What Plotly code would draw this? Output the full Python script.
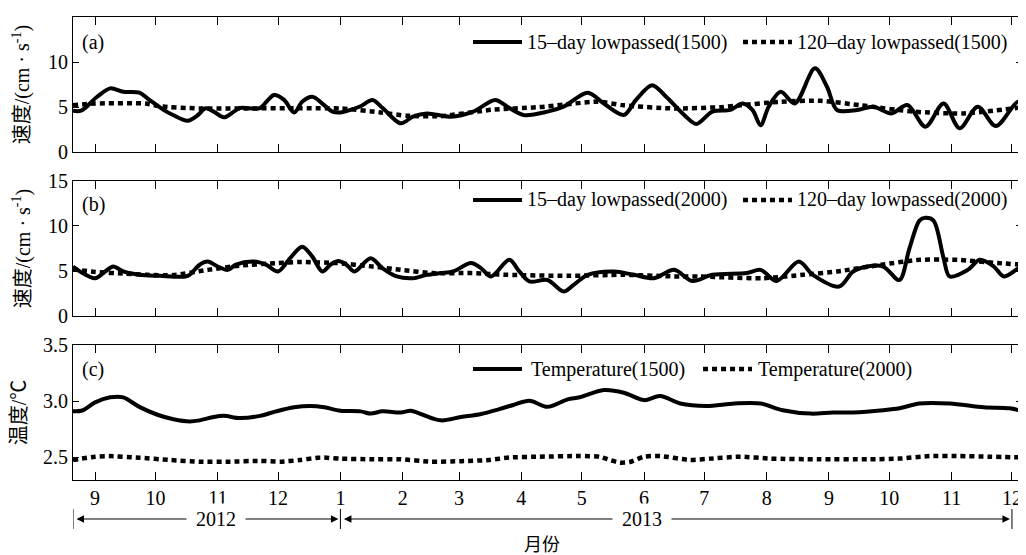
import pandas as pd
import plotly.graph_objects as go

BASE = "2012-09-01"  # day 0 of the day offsets below

# ---------------- (a) speed at 1500 m ----------------
a15_days = [-11, -7, 1, 7.5, 14, 22, 27, 34, 39, 46, 51, 55, 59, 64, 69, 72, 82, 86, 89, 94, 99, 103, 108, 113,
            118, 122, 127, 132, 138, 143, 152, 158, 165, 177, 188, 199, 205, 213, 225, 233, 245, 253, 263, 269,
            277, 284, 293, 299, 307, 316, 322, 327, 331, 335, 341, 348, 358, 364, 369, 379, 387, 396, 404, 413,
            422, 430, 439, 448, 459, 462]
a15_vals = [4.6, 4.6, 6.15, 7.08, 6.7, 6.6, 5.8, 4.7, 4.1, 3.5, 4.1, 4.87, 4.5, 3.87, 4.5, 4.9, 4.9, 5.8, 6.34, 5.8,
            4.4, 5.6, 6.15, 5.4, 4.5, 4.4, 4.7, 5.1, 5.8, 4.9, 3.2, 3.94, 4.3, 3.94, 4.5, 5.8, 5.05, 4.13, 4.5,
            5.05, 6.6, 5.4, 4.13, 5.8, 7.44, 6.15, 4.13, 3.13, 4.5, 4.7, 5.4, 4.67, 3.0, 5.05, 6.7, 5.4, 9.3,
            7.26, 4.68, 4.68, 5.05, 4.3, 5.23, 2.83, 5.4, 2.65, 5.05, 2.9, 5.6, 5.0]
a120_days = [-11, 0, 25, 32, 52, 122, 142, 155, 172, 197, 221, 250, 263, 288, 311, 321, 341, 361, 381, 407, 432, 462]
a120_vals = [5.2, 5.4, 5.4, 5.1, 4.85, 4.85, 4.4, 4.05, 4.0, 4.7, 5.0, 5.6, 5.2, 4.85, 5.0, 5.2, 5.6, 5.7, 5.2,
             4.5, 4.3, 5.0]

# ---------------- (b) speed at 2000 m ----------------
b15_days = [-11, -7.5, 0, 5, 9, 14, 22, 32, 45, 47, 52, 56, 61, 66, 70, 79, 85, 91, 97, 103, 108, 113, 117, 121,
            125, 129, 137, 143, 150, 158, 165, 172, 178, 187, 192, 197, 206, 211, 216, 225, 233, 238, 245, 258,
            268, 278, 288, 297, 307, 324, 331, 339, 350, 357, 370, 377, 384, 392, 400, 405, 410, 413, 417, 422,
            425, 434, 440, 447, 452, 459, 462]
b15_vals = [5.5, 4.95, 4.2, 4.95, 5.5, 4.95, 4.58, 4.47, 4.4, 4.58, 5.7, 6.05, 5.5, 5.13, 5.7, 6.05, 5.7, 4.95,
            6.43, 7.7, 6.6, 4.95, 5.7, 6.1, 5.7, 4.95, 6.43, 5.3, 4.4, 4.2, 4.58, 4.77, 4.95, 5.88, 5.3, 4.4,
            6.24, 4.95, 3.84, 4.0, 2.73, 3.47, 4.58, 4.95, 4.58, 4.2, 5.13, 3.9, 4.58, 4.77, 5.13, 3.9, 6.05,
            4.58, 3.28, 4.95, 5.5, 5.5, 4.0, 7.5, 10.6, 10.9, 10.6, 6.43, 4.4, 5.13, 6.24, 5.5, 4.4, 5.3, 5.9]
b120_days = [-11, 0, 15, 26, 39, 56, 72, 91, 102, 120, 138, 152, 168, 187, 205, 235, 263, 288, 300, 332, 352,
             369, 391, 410, 429, 449, 462]
b120_vals = [5.2, 4.9, 4.7, 4.58, 4.55, 5.13, 5.6, 5.88, 6.0, 5.88, 5.5, 5.13, 4.77, 4.77, 4.58, 4.47, 4.58,
             4.4, 4.4, 4.2, 4.58, 4.95, 5.7, 6.24, 6.24, 5.88, 5.7]

# ---------------- (c) temperature ----------------
c1500_days = [-11, -6, 0, 7.5, 14, 22, 31, 39, 47, 52, 59, 64, 72, 82, 90, 99, 107, 114, 122, 132, 137, 143, 152,
              157, 163, 172, 182, 192, 201, 208, 216, 225, 235, 241, 253, 263, 273, 281, 291, 304, 318, 331,
              342, 356, 367, 377, 392, 400, 410, 425, 442, 455, 462]
c1500_vals = [2.91, 2.92, 2.99, 3.035, 3.035, 2.95, 2.88, 2.84, 2.82, 2.83, 2.86, 2.87, 2.85, 2.87, 2.91, 2.946,
              2.958, 2.946, 2.916, 2.91, 2.89, 2.91, 2.90, 2.916, 2.88, 2.83, 2.86, 2.887, 2.93, 2.967, 3.005,
              2.95, 3.017, 3.035, 3.10, 3.076, 3.01, 3.047, 2.98, 2.958, 2.98, 2.98, 2.92, 2.89, 2.90, 2.90,
              2.92, 2.937, 2.98, 2.98, 2.946, 2.937, 2.907]
c2000_days = [-11, 0, 7, 22, 37, 52, 67, 82, 92, 102, 112, 122, 137, 152, 167, 182, 196, 206, 221, 241, 251,
              256, 261, 266, 273, 281, 296, 306, 321, 336, 360, 385, 400, 415, 430, 445, 462]
c2000_vals = [2.478, 2.507, 2.513, 2.498, 2.478, 2.463, 2.463, 2.47, 2.463, 2.478, 2.50, 2.49, 2.484, 2.484,
              2.463, 2.467, 2.478, 2.50, 2.507, 2.513, 2.507, 2.478, 2.454, 2.46, 2.507, 2.513, 2.478, 2.49,
              2.507, 2.49, 2.484, 2.484, 2.49, 2.513, 2.513, 2.507, 2.50]

month_tick0 = "2012-09-01"
x_range = ["2012-08-21", "2013-12-06"]
years = ["2012", "2013"]
year_spans = [("2012-08-21", "2013-01-01"), ("2013-01-01", "2013-12-01")]
year_label_dates = ["2012-10-31", "2013-05-31"]

panel_labels = ["(a)", "(b)", "(c)"]
legend_names = [["15–day lowpassed(1500)", "120–day lowpassed(1500)"],
                ["15–day lowpassed(2000)", "120–day lowpassed(2000)"],
                ["Temperature(1500)", "Temperature(2000)"]]


def to_dates(days):
    return pd.Timestamp(BASE) + pd.to_timedelta(days, unit="D")


FONT = "Liberation Serif, 'Noto Sans CJK SC', serif"
FS = 20
DOT_DASH = "5px,4px"
SOLID = dict(color="black", width=4, shape="spline", smoothing=0.9)
DOTTED = dict(color="black", width=4.5, dash=DOT_DASH, shape="spline", smoothing=0.6)

series = [
    (a15_days, a15_vals, SOLID, legend_names[0][0], "x", "y"),
    (a120_days, a120_vals, DOTTED, legend_names[0][1], "x", "y"),
    (b15_days, b15_vals, SOLID, legend_names[1][0], "x2", "y2"),
    (b120_days, b120_vals, DOTTED, legend_names[1][1], "x2", "y2"),
    (c1500_days, c1500_vals, SOLID, legend_names[2][0], "x3", "y3"),
    (c2000_days, c2000_vals, DOTTED, legend_names[2][1], "x3", "y3"),
]

fig = go.Figure()
for d, v, ln, nm, xa, ya in series:
    fig.add_trace(go.Scatter(x=to_dates(d), y=v, mode="lines", line=ln, name=nm, xaxis=xa, yaxis=ya,
                             showlegend=False))

tickfont = dict(family=FONT, size=FS, color="black")
xcommon = dict(type="date", range=x_range, tick0=month_tick0, dtick="M1", tickformat="%-m",
               ticks="inside", ticklen=8, tickwidth=1, tickcolor="black",
               showline=True, linecolor="black", linewidth=1, mirror="ticks",
               showgrid=False, zeroline=False, tickfont=tickfont, automargin=False)
ycommon = dict(ticks="inside", ticklen=6, tickwidth=1, tickcolor="black",
               showline=True, linecolor="black", linewidth=1, mirror="ticks",
               showgrid=False, zeroline=False, tickfont=tickfont, automargin=False)
title_font = dict(family=FONT, size=FS, color="black")
speed_title = "速度/(cm · s<sup>-1</sup>)"

# the page body adds an 8px margin, so the figure is drawn 8px smaller and offset
fig.update_layout(
    width=1018, height=547,
    margin=dict(l=65, r=4, t=9, b=75),
    paper_bgcolor="white", plot_bgcolor="white",
    showlegend=False,
    xaxis=dict(xcommon, anchor="y", showticklabels=False),
    xaxis2=dict(xcommon, anchor="y2", showticklabels=False, matches="x"),
    xaxis3=dict(xcommon, anchor="y3", matches="x"),
    yaxis=dict(ycommon, domain=[0.708, 1.0], range=[0, 15], tickvals=[0, 5, 10, 15], anchor="x",
               title=dict(text=speed_title, font=title_font, standoff=12)),
    yaxis2=dict(ycommon, domain=[0.354, 0.646], range=[0, 15], tickvals=[0, 5, 10, 15], anchor="x2",
                title=dict(text=speed_title, font=title_font, standoff=12)),
    yaxis3=dict(ycommon, domain=[0.0, 0.2916], range=[2.3, 3.5], tickvals=[2.5, 3.0, 3.5], tickformat=".1f",
                anchor="x3", title=dict(text="温度/℃", font=title_font, standoff=12)),
)

ann = []
shapes = []
label_y = [0.945, 0.594, 0.2376]
legend_y = [0.946, 0.6048, 0.2397]
legend_x = [  # (line1 x0, x1, text1 x, line2 x0, x1, text2 x) in paper fraction
    (0.4215, 0.4731, 0.4763, 0.706, 0.7576, 0.7608),
    (0.4215, 0.4731, 0.4763, 0.706, 0.7576, 0.7608),
    (0.4215, 0.4731, 0.4800, 0.6639, 0.7155, 0.7200),
]
for lab, ly, lgy, lx, nms in zip(panel_labels, label_y, legend_y, legend_x, legend_names):
    ann.append(dict(text=lab, xref="paper", yref="paper", x=0.0074, y=ly, xanchor="left", yanchor="middle",
                    showarrow=False, font=dict(family=FONT, size=FS, color="black")))
    shapes.append(dict(type="line", xref="paper", yref="paper", x0=lx[0], x1=lx[1], y0=lgy, y1=lgy,
                       line=dict(color="black", width=4)))
    shapes.append(dict(type="line", xref="paper", yref="paper", x0=lx[3], x1=lx[4], y0=lgy, y1=lgy,
                       line=dict(color="black", width=4.5, dash=DOT_DASH)))
    ann.append(dict(text=nms[0], xref="paper", yref="paper", x=lx[2], y=lgy, xanchor="left",
                    yanchor="middle", showarrow=False, font=dict(family=FONT, size=FS, color="black")))
    ann.append(dict(text=nms[1], xref="paper", yref="paper", x=lx[5], y=lgy, xanchor="left",
                    yanchor="middle", showarrow=False, font=dict(family=FONT, size=FS, color="black")))

arrow_y = -0.0842
for (s, e), yr, ld in zip(year_spans, years, year_label_dates):
    ann.append(dict(text="", xref="x3", yref="paper", x=e, y=arrow_y, axref="x3", ax=s, ayref="pixel", ay=0,
                    showarrow=True, arrowhead=2, startarrowhead=2, arrowside="end+start", arrowsize=1.5,
                    startarrowsize=1.5, arrowwidth=1, arrowcolor="black", standoff=2, startstandoff=2))
    ann.append(dict(text=" " + yr + " ", xref="x3", yref="paper", x=ld, y=arrow_y, showarrow=False,
                    bgcolor="white", borderpad=4, xanchor="center", yanchor="middle",
                    font=dict(family=FONT, size=FS, color="black")))
for d in [year_spans[0][0], year_spans[0][1], year_spans[1][1]]:
    shapes.append(dict(type="line", xref="x3", yref="paper", x0=d, x1=d, y0=-0.0626, y1=-0.1058,
                       line=dict(color="black", width=1)))

ann.append(dict(text="月份", xref="paper", yref="paper", x=0.494, y=-0.140, showarrow=False,
                xanchor="center", yanchor="middle", font=dict(family=FONT, size=18, color="black")))

fig.update_layout(annotations=ann, shapes=shapes)
fig.write_html("out.html")
